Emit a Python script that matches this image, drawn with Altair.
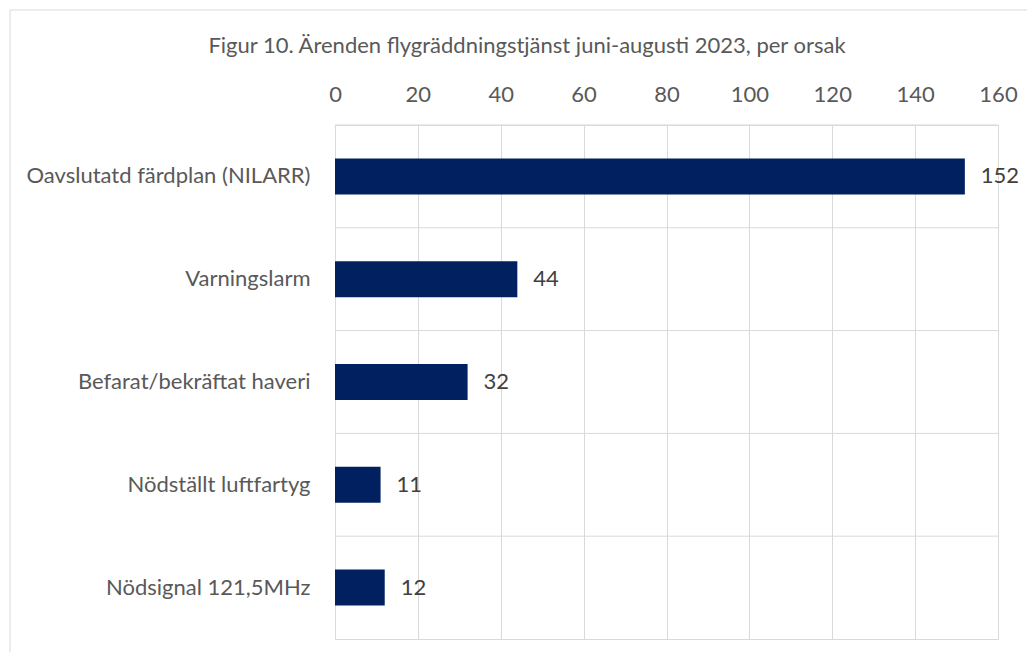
import altair as alt
import pandas as pd

categories = ["Oavslutatd färdplan (NILARR)", "Varningslarm", "Befarat/bekräftat haveri",
              "Nödställt luftfartyg", "Nödsignal 121,5MHz"]
values = [152, 44, 32, 11, 12]
x_ticks = [0, 20, 40, 60, 80, 100, 120, 140, 160]
title_text = "Figur 10. Ärenden flygräddningstjänst juni-augusti 2023, per orsak"

df = pd.DataFrame({"orsak": categories, "antal": values})

FONT = "Lato"
GRID = "#d9d9d9"
TXT = "#595959"
FS = 22

yscale = alt.Scale(domain=categories, paddingInner=0, paddingOuter=0)
xscale = alt.Scale(domain=[0, 160], nice=False)

base = alt.Chart(df)

bars = base.mark_bar(color="#002060", height={"band": 0.35}).encode(
    x=alt.X("antal:Q", scale=xscale,
            axis=alt.Axis(orient="top", values=x_ticks, title=None, ticks=False, domain=False,
                          grid=True, gridColor=GRID, labelFontSize=FS, labelColor=TXT,
                          labelFont=FONT, labelPadding=19, labelFlush=False,
                          labelOverlap=False, labelBound=False)),
    y=alt.Y("orsak:N", scale=yscale, sort=categories,
            axis=alt.Axis(title=None, ticks=False, domain=False, grid=False, labelFontSize=FS,
                          labelColor=TXT, labelFont=FONT, labelPadding=25, labelLimit=400)),
)

seps = base.mark_rule(color=GRID, strokeWidth=1).encode(
    y=alt.Y("orsak:N", scale=yscale, sort=categories, bandPosition=0)
)

labels = base.mark_text(align="left", baseline="middle", dx=16, fontSize=FS, font=FONT,
                        color="#404040").encode(
    x=alt.X("antal:Q", scale=xscale),
    y=alt.Y("orsak:N", scale=yscale, sort=categories),
    text=alt.Text("antal:Q"),
)

one = pd.DataFrame({"t": [title_text]})

frame = alt.Chart(one).mark_rect(filled=False, stroke=GRID, strokeWidth=1).encode(
    x=alt.value(-325), x2=alt.value(1200), y=alt.value(-115), y2=alt.value(800)
)

title = alt.Chart(one).mark_text(align="center", baseline="middle", fontSize=FS, font=FONT,
                                 color=TXT).encode(
    x=alt.value(192), y=alt.value(-79), text="t:N"
)

chart = alt.layer(frame, seps, bars, labels, title).properties(
    width=663, height=514,
    padding={"left": 327, "top": 117, "right": 29, "bottom": 13},
    autosize=alt.AutoSizeParams(type="none"),
).configure_view(stroke=GRID, strokeWidth=1)

chart.save("out.html", embed_options={"renderer": "svg", "actions": False})
